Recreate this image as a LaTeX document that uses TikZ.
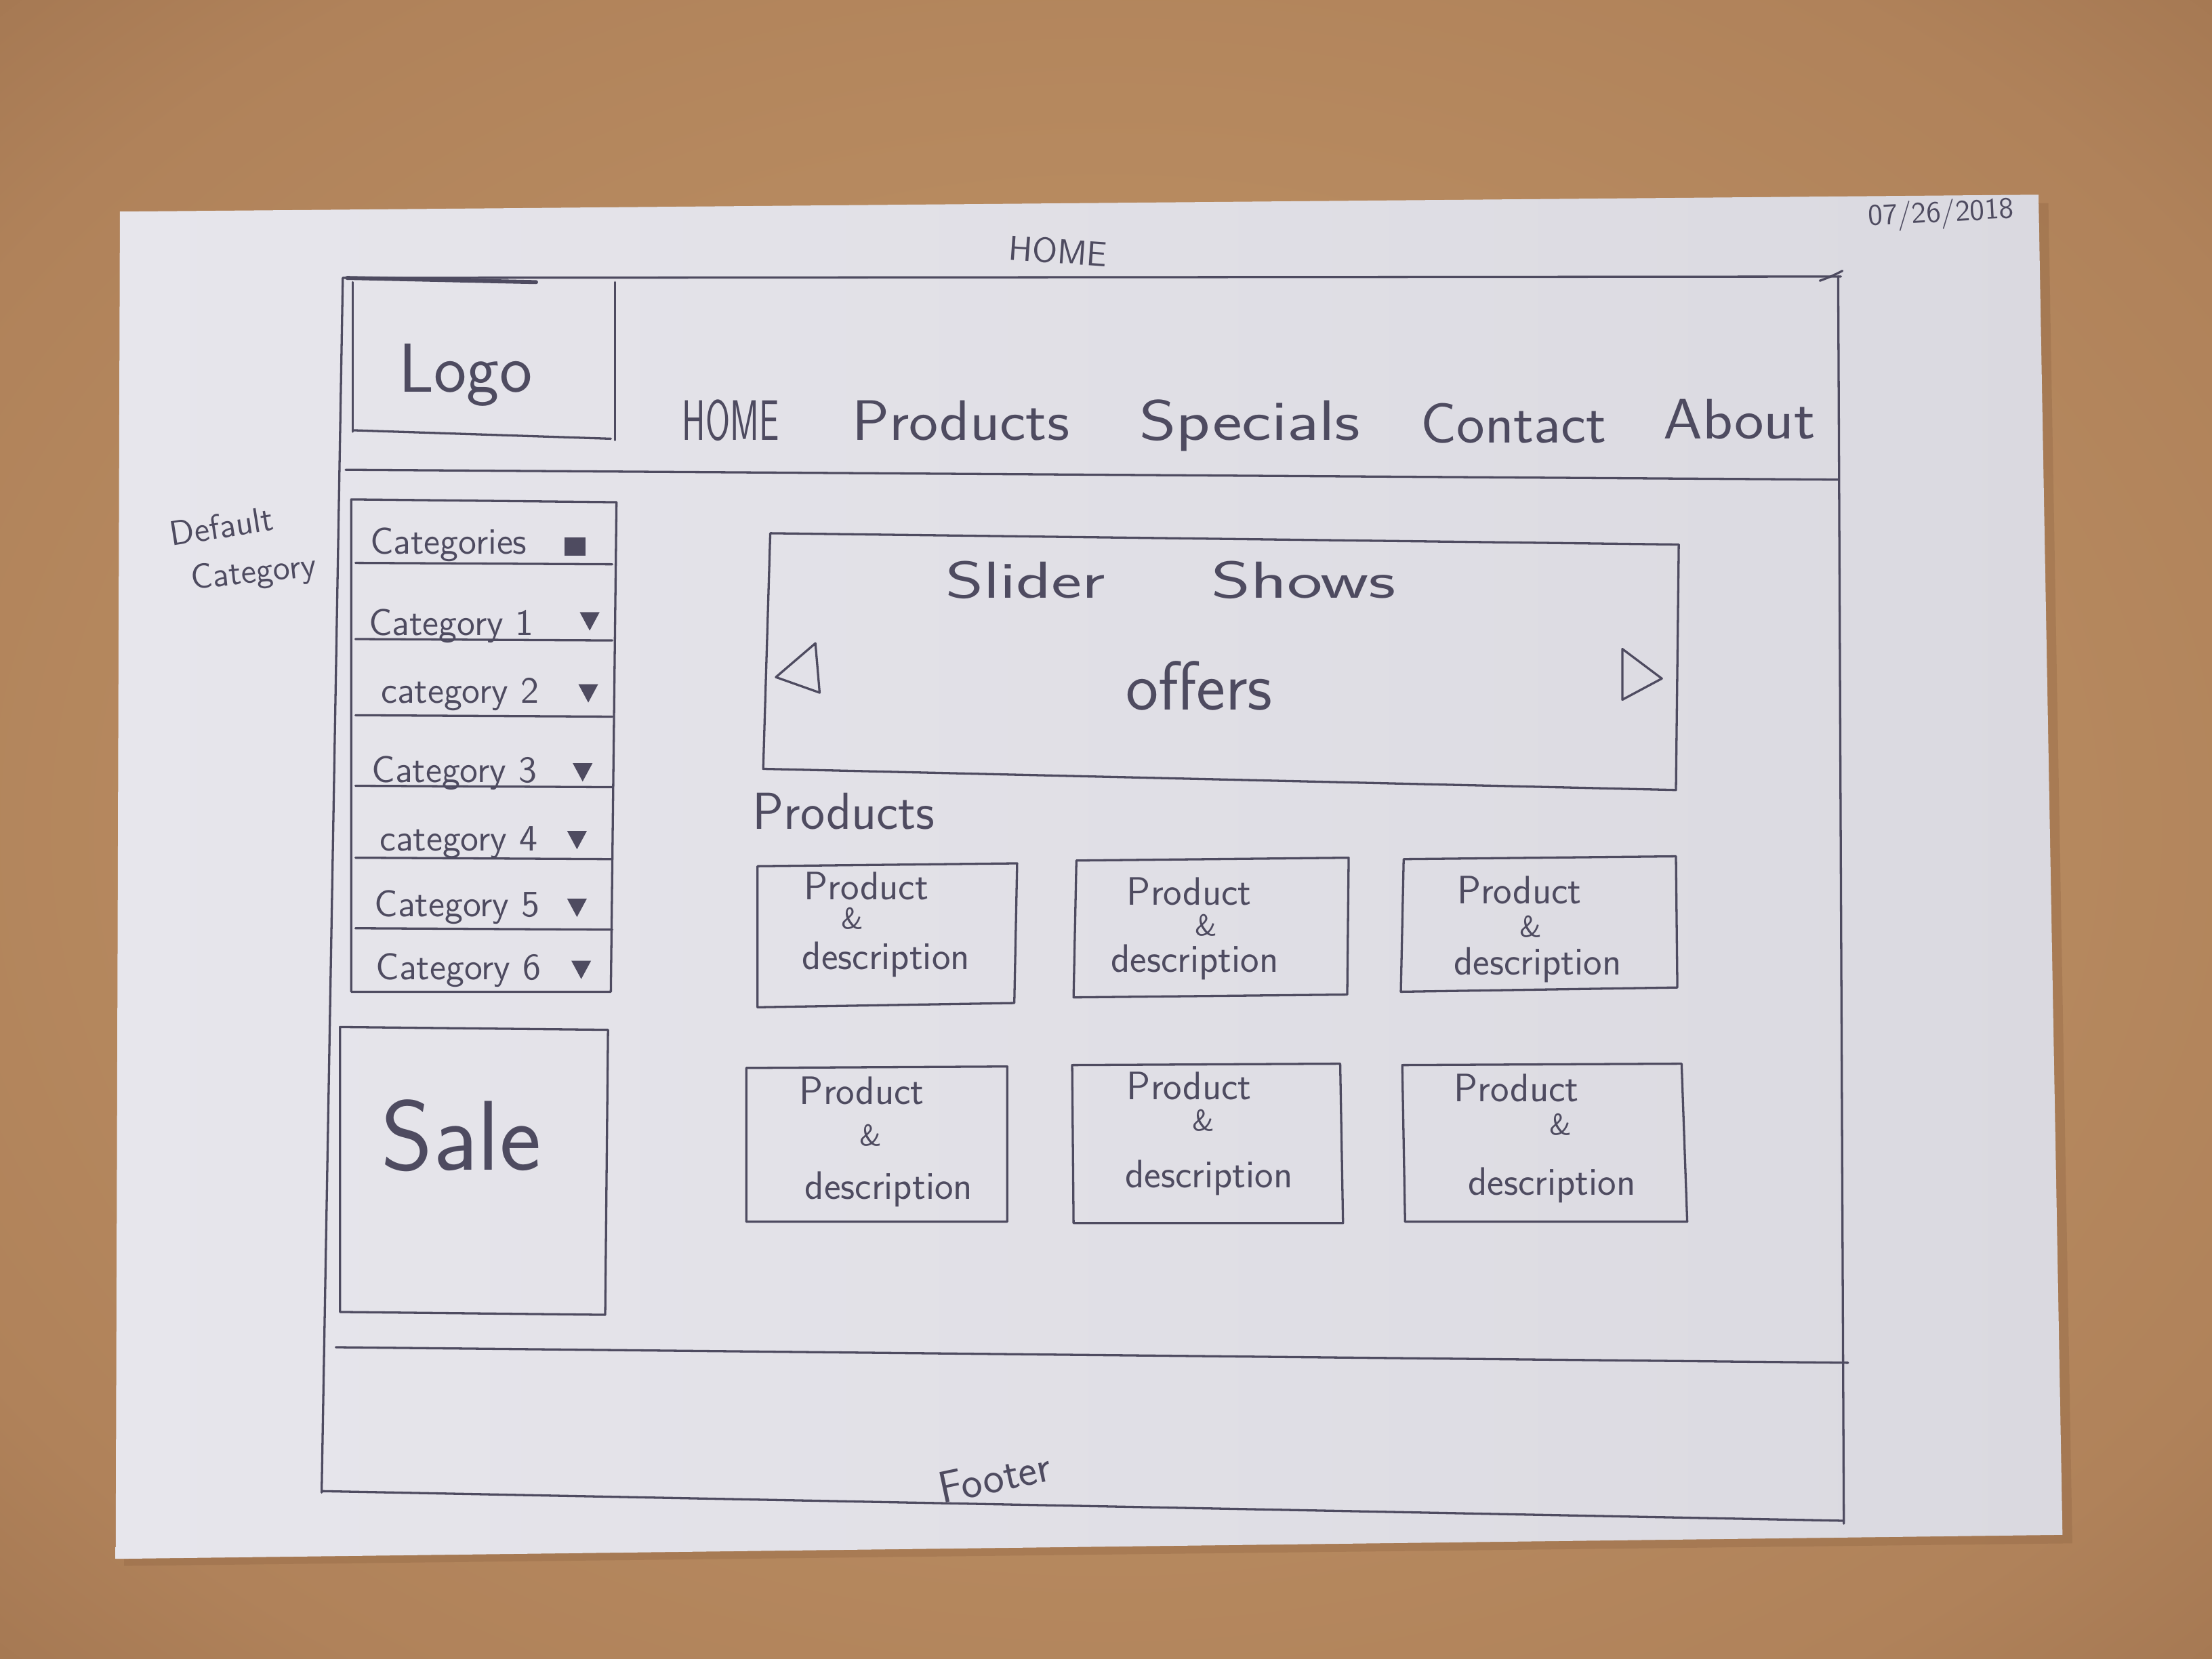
\documentclass[tikz,border=0pt]{standalone}
\usepackage{fontspec}
\usepackage{graphicx}
\definecolor{wood}{HTML}{B0825A}
\definecolor{wooddark}{HTML}{8A6040}
\definecolor{woodlight}{HTML}{C39869}
\definecolor{paper}{HTML}{E7E6EC}
\definecolor{paperdark}{HTML}{DAD9E0}
\definecolor{pencil}{HTML}{4E4B60}
\pgfdeclareradialshading{woodglow}{\pgfpoint{0bp}{0bp}}{%
  color(0bp)=(woodlight); color(30bp)=(wood); color(50bp)=(wooddark); color(70bp)=(wooddark)}
\begin{document}
\begin{tikzpicture}[x=0.02cm,y=-0.02cm,
  pen/.style={draw=pencil, line width=0.9pt, line cap=round, line join=round},
  heavypen/.style={pen, line width=1.6pt},
  hand/.style={text=pencil, inner sep=0pt},
  navtext/.style={hand, font=\sffamily\fontsize{23}{26}\selectfont, anchor=base},
  cattext/.style={hand, font=\sffamily\fontsize{15}{17}\selectfont},
  prodtext/.style={hand, font=\sffamily\fontsize{16}{18}\selectfont},
  amptext/.style={hand, font=\sffamily\fontsize{12}{14}\selectfont},
  note/.style={hand, font=\sffamily\fontsize{14}{16}\selectfont}]
\useasboundingbox (0,0) rectangle (1568,1176);

% table top and sheet of paper
\shade[shading=woodglow] (0,0) rectangle (1568,1176);
\fill[wooddark, opacity=0.3] (90,156) -- (1452,144) -- (1469,1094) -- (88,1110) -- cycle;
\shade[left color=paper, right color=paperdark] (85,150) -- (1445,138) -- (1462,1088) -- (82,1105) -- cycle;

% page frame
\draw[pen] (243,197) -- (1305,196);
\draw[heavypen] (246,197) -- (380,200);
\draw[pen] (1290,199) .. controls (1298,196) .. (1306,192);
\draw[pen] (243,197) -- (228,1058);
\draw[pen] (1303,196) -- (1307,1080);
\draw[pen] (228,1057) -- (1307,1078);

% header
\draw[pen] (245,333) -- (1303,340);
\draw[pen] (250,200) -- (250,306);
\draw[pen] (436,200) -- (436,312);
\draw[pen] (250,305) -- (433,311);
\node[hand, font=\sffamily\fontsize{28}{30}\selectfont] (logo) at (330,266) {Logo};
\node[navtext] (navhome) at (518,312) {\scalebox{0.62}[1]{HOME}};
\node[navtext] (navproducts) at (681,312) {\scalebox{1.09}[1]{Products}};
\node[navtext] (navspecials) at (886,312) {\scalebox{1.24}[1]{Specials}};
\node[navtext] (navcontact) at (1073,314) {\scalebox{1.05}[1]{Contact}};
\node[navtext] (navabout) at (1233,311) {\scalebox{1.1}[1]{About}};

% page title and date
\node[hand, font=\sffamily\fontsize{14}{16}\selectfont, rotate=-4] (title) at (750,178) {HOME};
\node[hand, font=\sffamily\fontsize{12}{14}\selectfont, rotate=3] (date) at (1376,152) {07/26/2018};

% category menu
\draw[pen] (249,354) -- (437,356) -- (433,703) -- (249,703) -- cycle;
\foreach \yy in {399,453,507,557,608,658}
  \draw[pen] (252,\yy) -- (434,\yy+1);
\fill[pencil] (400,381) rectangle (415,394);
\foreach \xx/\yy in {418/440, 417/491, 413/547, 409/595, 409/643, 412/687}
  \fill[pencil] (\xx-7,\yy-6) -- (\xx+7,\yy-6) -- (\xx,\yy+7) -- cycle;
\node[cattext] (cat0) at (318,386) {Categories};
\node[cattext] (cat1) at (320,444) {Category 1};
\node[cattext] (cat2) at (326,492) {category 2};
\node[cattext] (cat3) at (322,548) {Category 3};
\node[cattext] (cat4) at (325,597) {category 4};
\node[cattext] (cat5) at (324,643) {Category 5};
\node[cattext] (cat6) at (325,688) {Category 6};
\node[note, rotate=9] (defa) at (157,373) {Default};
\node[note, rotate=6] (defb) at (180,407) {Category};

% sale block
\draw[pen] (241,728) -- (431,730) -- (429,932) -- (241,930) -- cycle;
\node[hand, font=\sffamily\fontsize{40}{42}\selectfont] (sale) at (327,805) {Sale};

% slider
\draw[pen] (546,378) -- (1190,386) -- (1188,560) -- (541,545) -- cycle;
\node[hand, font=\sffamily\fontsize{21}{24}\selectfont] (slider) at (830,411) {\scalebox{1.4}[1]{Slider}\hspace{1.5cm}\scalebox{1.45}[1]{Shows}};
\node[hand, font=\sffamily\fontsize{28}{30}\selectfont] (offers) at (850,486) {offers};
\draw[pen] (550,480) -- (578,456) -- (581,491) -- cycle;
\draw[pen] (1178,481) -- (1150,460) -- (1150,496) -- cycle;

% product grid
\node[hand, font=\sffamily\fontsize{21}{24}\selectfont] (products) at (598,575) {Products};
\draw[pen] (537,614) -- (721,612) -- (719,711) -- (537,714) -- cycle;
\draw[pen] (763,610) -- (956,608) -- (955,705) -- (761,707) -- cycle;
\draw[pen] (995,609) -- (1188,607) -- (1189,700) -- (993,703) -- cycle;
\draw[pen] (529,757) -- (714,756) -- (714,866) -- (529,866) -- cycle;
\draw[pen] (760,755) -- (950,754) -- (952,867) -- (761,867) -- cycle;
\draw[pen] (994,755) -- (1192,754) -- (1196,866) -- (996,866) -- cycle;
\foreach \n/\px/\py/\ax/\ay/\dx/\dy in {
    1/614/628/604/651/628/680,
    2/843/632/855/656/847/682,
    3/1077/631/1085/657/1090/684,
    4/611/773/617/805/630/843,
    5/843/770/853/794/857/835,
    6/1075/771/1106/797/1100/840} {
  \node[prodtext] (prod\n) at (\px,\py) {Product};
  \node[amptext] (amp\n) at (\ax,\ay) {\&};
  \node[prodtext] (desc\n) at (\dx,\dy) {description};
}

% footer
\draw[pen] (238,955) -- (1310,966);
\node[hand, font=\sffamily\fontsize{18}{20}\selectfont, rotate=12] (footer) at (705,1047) {Footer};
\end{tikzpicture}
\end{document}
